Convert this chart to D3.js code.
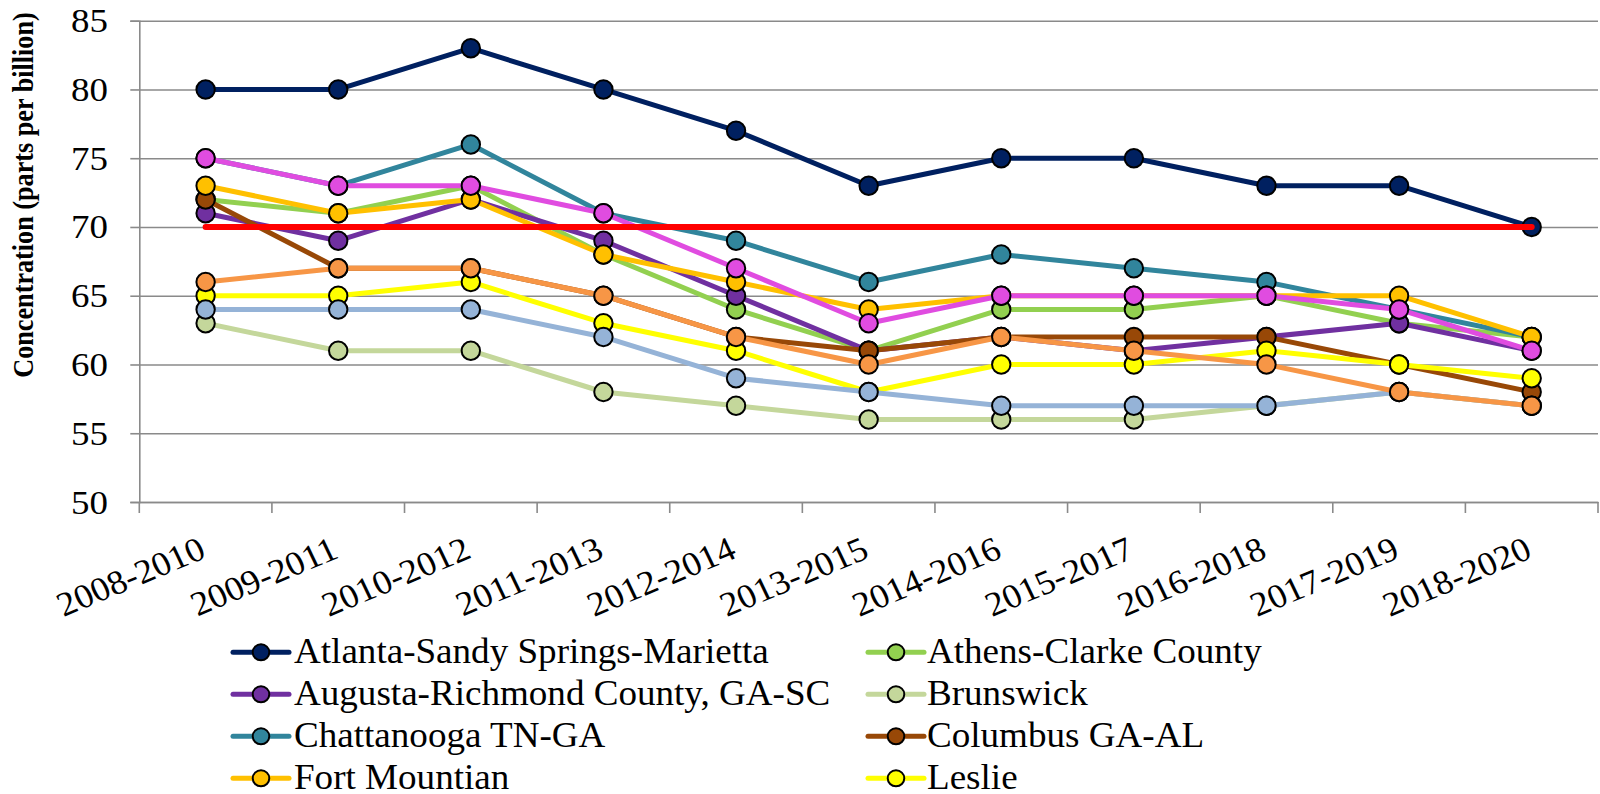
<!DOCTYPE html>
<html><head><meta charset="utf-8">
<script src="https://cdn.jsdelivr.net/npm/d3@7"></script>
<style>
body{margin:0;background:#fff;overflow:hidden}
svg{display:block}
text{font-family:"Liberation Serif","Times New Roman",serif;fill:#000}
</style>
</head><body>
<svg id="chart" width="1600" height="794"></svg>
<script>
// ---------- data ----------
const categories = ["2008-2010","2009-2011","2010-2012","2011-2013","2012-2014","2013-2015","2014-2016","2015-2017","2016-2018","2017-2019","2018-2020"];
const yTicks = [50,55,60,65,70,75,80,85];

const atlanta      = [80,80,83,80,77,73,75,75,73,73,70];
const athens       = [72,71,73,68,64,61,64,64,65,63,62];
const augusta      = [71,69,72,69,65,61,62,61,62,63,61];
const brunswick    = [63,61,61,58,57,56,56,56,57,58,57];
const chattanooga  = [75,73,76,71,69,66,68,67,66,64,62];
const columbus     = [72,67,67,65,62,61,62,62,62,60,58];
const fortMountian = [73,71,72,68,66,64,65,65,65,65,62];
const leslie       = [65,65,66,63,61,58,60,60,61,60,59];
const macon        = [75,73,73,71,67,63,65,65,65,64,61];
const savannah     = [64,64,64,62,59,58,57,57,57,58,57];
const summerville  = [66,67,67,65,62,60,62,61,60,58,57];
const standard     = [70,70,70,70,70,70,70,70,70,70,70];

const seriesNames  = ["Atlanta-Sandy Springs-Marietta","Athens-Clarke County","Augusta-Richmond County, GA-SC","Brunswick","Chattanooga TN-GA","Columbus GA-AL","Fort Mountian","Leslie","Macon","Savannah","Summerville","Standard"];
const seriesValues = [atlanta,athens,augusta,brunswick,chattanooga,columbus,fortMountian,leslie,macon,savannah,summerville,standard];
const seriesColors = ["#002060","#92D050","#7030A0","#C4D79B","#31859C","#984807","#FFC000","#FFFF00","#E04CE0","#95B3D7","#F79646","#FF0000"];
const seriesMarkers = [true,true,true,true,true,true,true,true,true,true,true,false];

const yTitle = "Concentration (parts per billion)";

// ---------- layout ----------
const W = 1600, H = 794;
const svg = d3.select("#chart");
const L = 139.3, R = 1598, T = 20.7, B = 502;

const x = d3.scaleBand().domain(categories).range([L, R]).padding(0);
const y = d3.scaleLinear().domain([50, 85]).range([B, T]);
const cx = c => x(c) + x.bandwidth() / 2;

// gridlines
const grid = svg.append("g").attr("transform", `translate(${L},0)`)
  .call(d3.axisLeft(y).tickValues(yTicks).tickSize(-(R - L)).tickFormat(""));
grid.select(".domain").remove();
grid.selectAll("line").attr("stroke", "#8a8a8a").attr("stroke-width", 1.6);

// left axis with ticks
const yAx = svg.append("g").attr("transform", `translate(${L},0)`)
  .call(d3.axisLeft(y).tickValues(yTicks).tickSize(9).tickPadding(0).tickFormat(""));
yAx.select(".domain").attr("stroke", "#8a8a8a").attr("stroke-width", 1.6);
yAx.selectAll("line").attr("stroke", "#8a8a8a").attr("stroke-width", 1.6);

// y labels
svg.append("g").selectAll("text").data(yTicks).join("text")
  .attr("text-anchor", "end")
  .attr("font-size", 33)
  .attr("transform", d => `translate(108,${y(d) + 11.5}) scale(1.12,1)`)
  .text(d => d);

// y title
svg.append("text")
  .attr("text-anchor", "middle")
  .attr("font-size", 26.2)
  .attr("font-weight", "bold")
  .attr("transform", `translate(32.5,195) scale(1.15,1) rotate(-90)`)
  .text(yTitle);

// bottom axis line + boundary ticks
const xAx = svg.append("g").attr("transform", `translate(0,${B})`)
  .call(d3.axisBottom(x).tickSize(0).tickFormat(""));
xAx.select(".domain").attr("stroke", "#8a8a8a").attr("stroke-width", 1.6);
const bounds = categories.map(c => x(c)).concat([x(categories[categories.length - 1]) + x.bandwidth()]);
svg.append("g").selectAll("line").data(bounds).join("line")
  .attr("x1", d => d).attr("x2", d => d)
  .attr("y1", B).attr("y2", B + 11)
  .attr("stroke", "#8a8a8a").attr("stroke-width", 1.6);

// x labels
svg.append("g").selectAll("text").data(categories).join("text")
  .attr("text-anchor", "end")
  .attr("font-size", 34)
  .attr("transform", d => `translate(${cx(d) + 2},557) scale(1.07,1) rotate(-24)`)
  .text(d => d);

// series
const line = d3.line().x((d, i) => cx(categories[i])).y(d => y(d));
seriesValues.forEach((vals, si) => {
  const g = svg.append("g");
  g.append("path").datum(vals)
    .attr("d", line)
    .attr("fill", "none")
    .attr("stroke", seriesColors[si])
    .attr("stroke-width", si === seriesValues.length - 1 ? 6 : 5)
    .attr("stroke-linejoin", "round")
    .attr("stroke-linecap", "round");
  if (seriesMarkers[si]) {
    g.selectAll("circle").data(vals).join("circle")
      .attr("cx", (d, i) => cx(categories[i]))
      .attr("cy", d => y(d))
      .attr("r", 9.2)
      .attr("fill", seriesColors[si])
      .attr("stroke", "#000")
      .attr("stroke-width", 2);
  }
});

// legend (two columns, row-major); rows below the canvas are not drawn
const legX = [233, 868], legTextX = [294, 927];
const rowY0 = 652.3, rowStep = 42;
const leg = svg.append("g");
seriesNames.forEach((name, i) => {
  const col = i % 2, row = Math.floor(i / 2);
  const yy = rowY0 + row * rowStep;
  if (yy > H) return;
  const g = leg.append("g");
  g.append("line")
    .attr("x1", legX[col]).attr("x2", legX[col] + 56)
    .attr("y1", yy).attr("y2", yy)
    .attr("stroke", seriesColors[i]).attr("stroke-width", 5)
    .attr("stroke-linecap", "round");
  if (seriesMarkers[i]) {
    g.append("ellipse")
      .attr("cx", legX[col] + 28).attr("cy", yy)
      .attr("rx", 8.3).attr("ry", 8)
      .attr("fill", seriesColors[i]).attr("stroke", "#000").attr("stroke-width", 2);
  }
  g.append("text")
    .attr("font-size", 35)
    .attr("transform", `translate(${legTextX[col]},${yy + 11}) scale(1.06,1)`)
    .text(name);
});
</script>
</body></html>
